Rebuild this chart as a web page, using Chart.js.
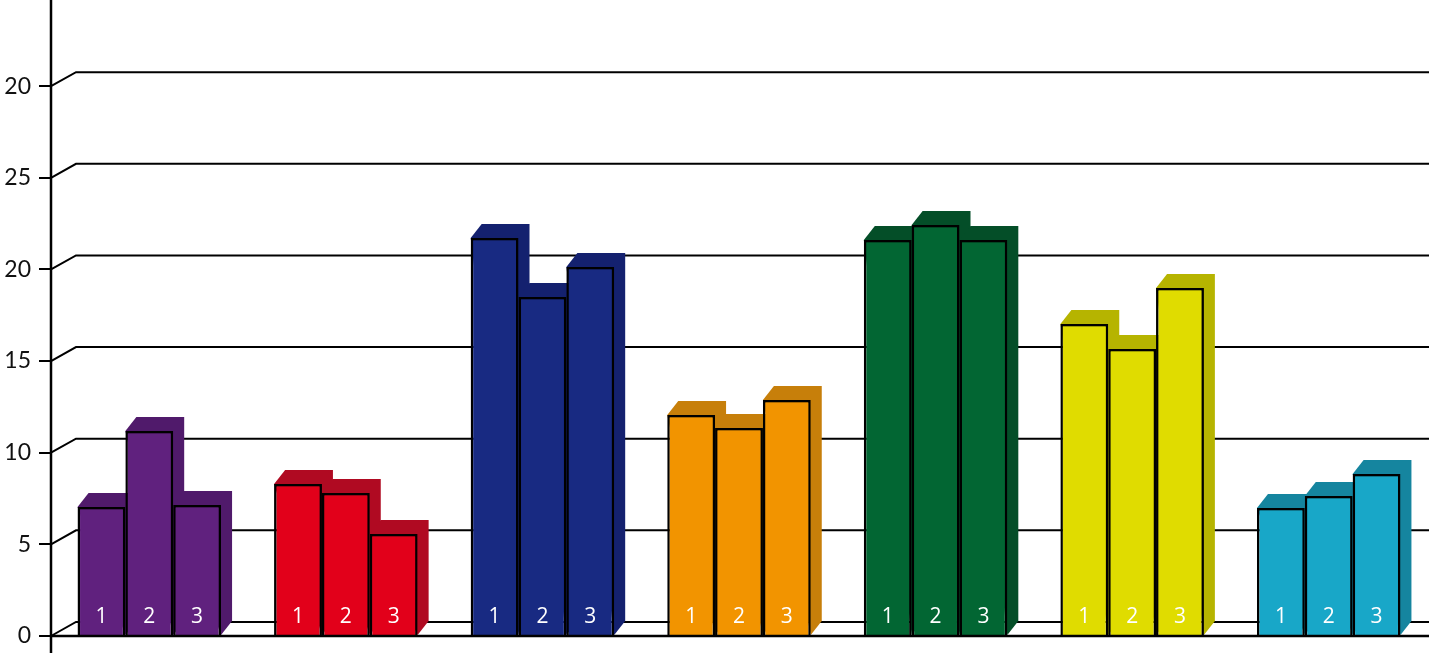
<!DOCTYPE html>
<html>
<head>
<meta charset="utf-8">
<style>
  html, body { margin: 0; padding: 0; background: #fff; overflow: hidden; }
  canvas { display: block; }
</style>
<script src="https://cdn.jsdelivr.net/npm/chart.js@4"></script>
</head>
<body>
<canvas id="myChart" width="1429" height="653"></canvas>
<script>
var categories = ["A", "B", "C", "D", "E", "F", "G"];
var barLabels = ["1", "2", "3"];
var values1 = [7.04, 8.29, 21.71, 12.06, 21.6, 17.02, 6.98];
var values2 = [11.18, 7.8, 18.49, 11.35, 22.42, 15.66, 7.64];
var values3 = [7.15, 5.56, 20.13, 12.87, 21.6, 18.99, 8.84];
var tickValues = [0, 5, 10, 15, 20, 25, 30];
var tickLabels = ["0", "5", "10", "15", "20", "25", "20"];
var frontColors = ["#60217e", "#e2001a", "#182a82", "#f29400", "#026633", "#e0dc00", "#18a7c8"];
var sideColors = ["#501a6b", "#b00a22", "#14216f", "#c77f0a", "#044e28", "#b6b400", "#15859f"];

var wallX = 25, wallY = 14;
var depthX = 11, depthY = 14;

// back wall lines and the side / top faces of the bars
var depthPlugin = {
  id: "depth",
  beforeDatasetsDraw: function (chart) {
    var c = chart.ctx, y = chart.scales.y, area = chart.chartArea;
    c.save();
    c.strokeStyle = "#000";
    c.lineWidth = 2;
    tickValues.forEach(function (v) {
      var py = y.getPixelForValue(v);
      c.beginPath();
      c.moveTo(area.left, py);
      c.lineTo(area.left + wallX, py - wallY);
      c.lineTo(chart.width, py - wallY);
      c.stroke();
    });
    chart.data.datasets.forEach(function (ds, i) {
      chart.getDatasetMeta(i).data.forEach(function (bar, j) {
        var left = bar.x - bar.width / 2, right = bar.x + bar.width / 2;
        c.fillStyle = sideColors[j];
        c.beginPath();
        c.moveTo(left, bar.y);
        c.lineTo(left + depthX, bar.y - depthY);
        c.lineTo(right + depthX, bar.y - depthY);
        c.lineTo(right + depthX, bar.base - depthY);
        c.lineTo(right, bar.base);
        c.closePath();
        c.fill();
      });
    });
    c.restore();
  },
  afterDatasetsDraw: function (chart) {
    var c = chart.ctx, area = chart.chartArea;
    c.save();
    c.fillStyle = "#fff";
    c.font = "21px 'Open Sans'";
    c.textAlign = "center";
    c.textBaseline = "middle";
    chart.data.datasets.forEach(function (ds, i) {
      chart.getDatasetMeta(i).data.forEach(function (bar) {
        c.fillText(barLabels[i], bar.x, bar.base - 18);
      });
    });
    // base line and vertical axis run past the plot area
    c.strokeStyle = "#000";
    c.lineWidth = 2.5;
    c.beginPath();
    c.moveTo(area.left, area.bottom);
    c.lineTo(chart.width, area.bottom);
    c.moveTo(area.left, 0);
    c.lineTo(area.left, chart.height);
    c.stroke();
    c.restore();
  }
};

function makeDataset(values) {
  return {
    data: values,
    backgroundColor: frontColors,
    borderColor: "#000",
    borderWidth: 2.5,
    barPercentage: 1,
    categoryPercentage: 0.73
  };
}

new Chart(document.getElementById("myChart"), {
  type: "bar",
  data: {
    labels: categories,
    datasets: [makeDataset(values1), makeDataset(values2), makeDataset(values3)]
  },
  options: {
    responsive: false,
    animation: false,
    layout: { padding: { top: 0, left: 0, right: 2, bottom: 17 } },
    plugins: { legend: { display: false }, tooltip: { enabled: false } },
    scales: {
      x: { display: false },
      y: {
        min: 0,
        max: 34.7,
        afterFit: function (axis) {
          axis.width = 51;
          axis.paddingTop = 0;
          axis.paddingBottom = 0;
        },
        afterBuildTicks: function (axis) {
          axis.ticks = tickValues.map(function (v) { return { value: v }; });
        },
        grid: { drawOnChartArea: false, color: "#000", lineWidth: 2, tickLength: 12 },
        border: { display: false },
        ticks: {
          padding: 8,
          color: "#111",
          font: { family: "Lato", size: 23 },
          callback: function (v) { return tickLabels[tickValues.indexOf(v)]; }
        }
      }
    }
  },
  plugins: [depthPlugin]
});
</script>
</body>
</html>
